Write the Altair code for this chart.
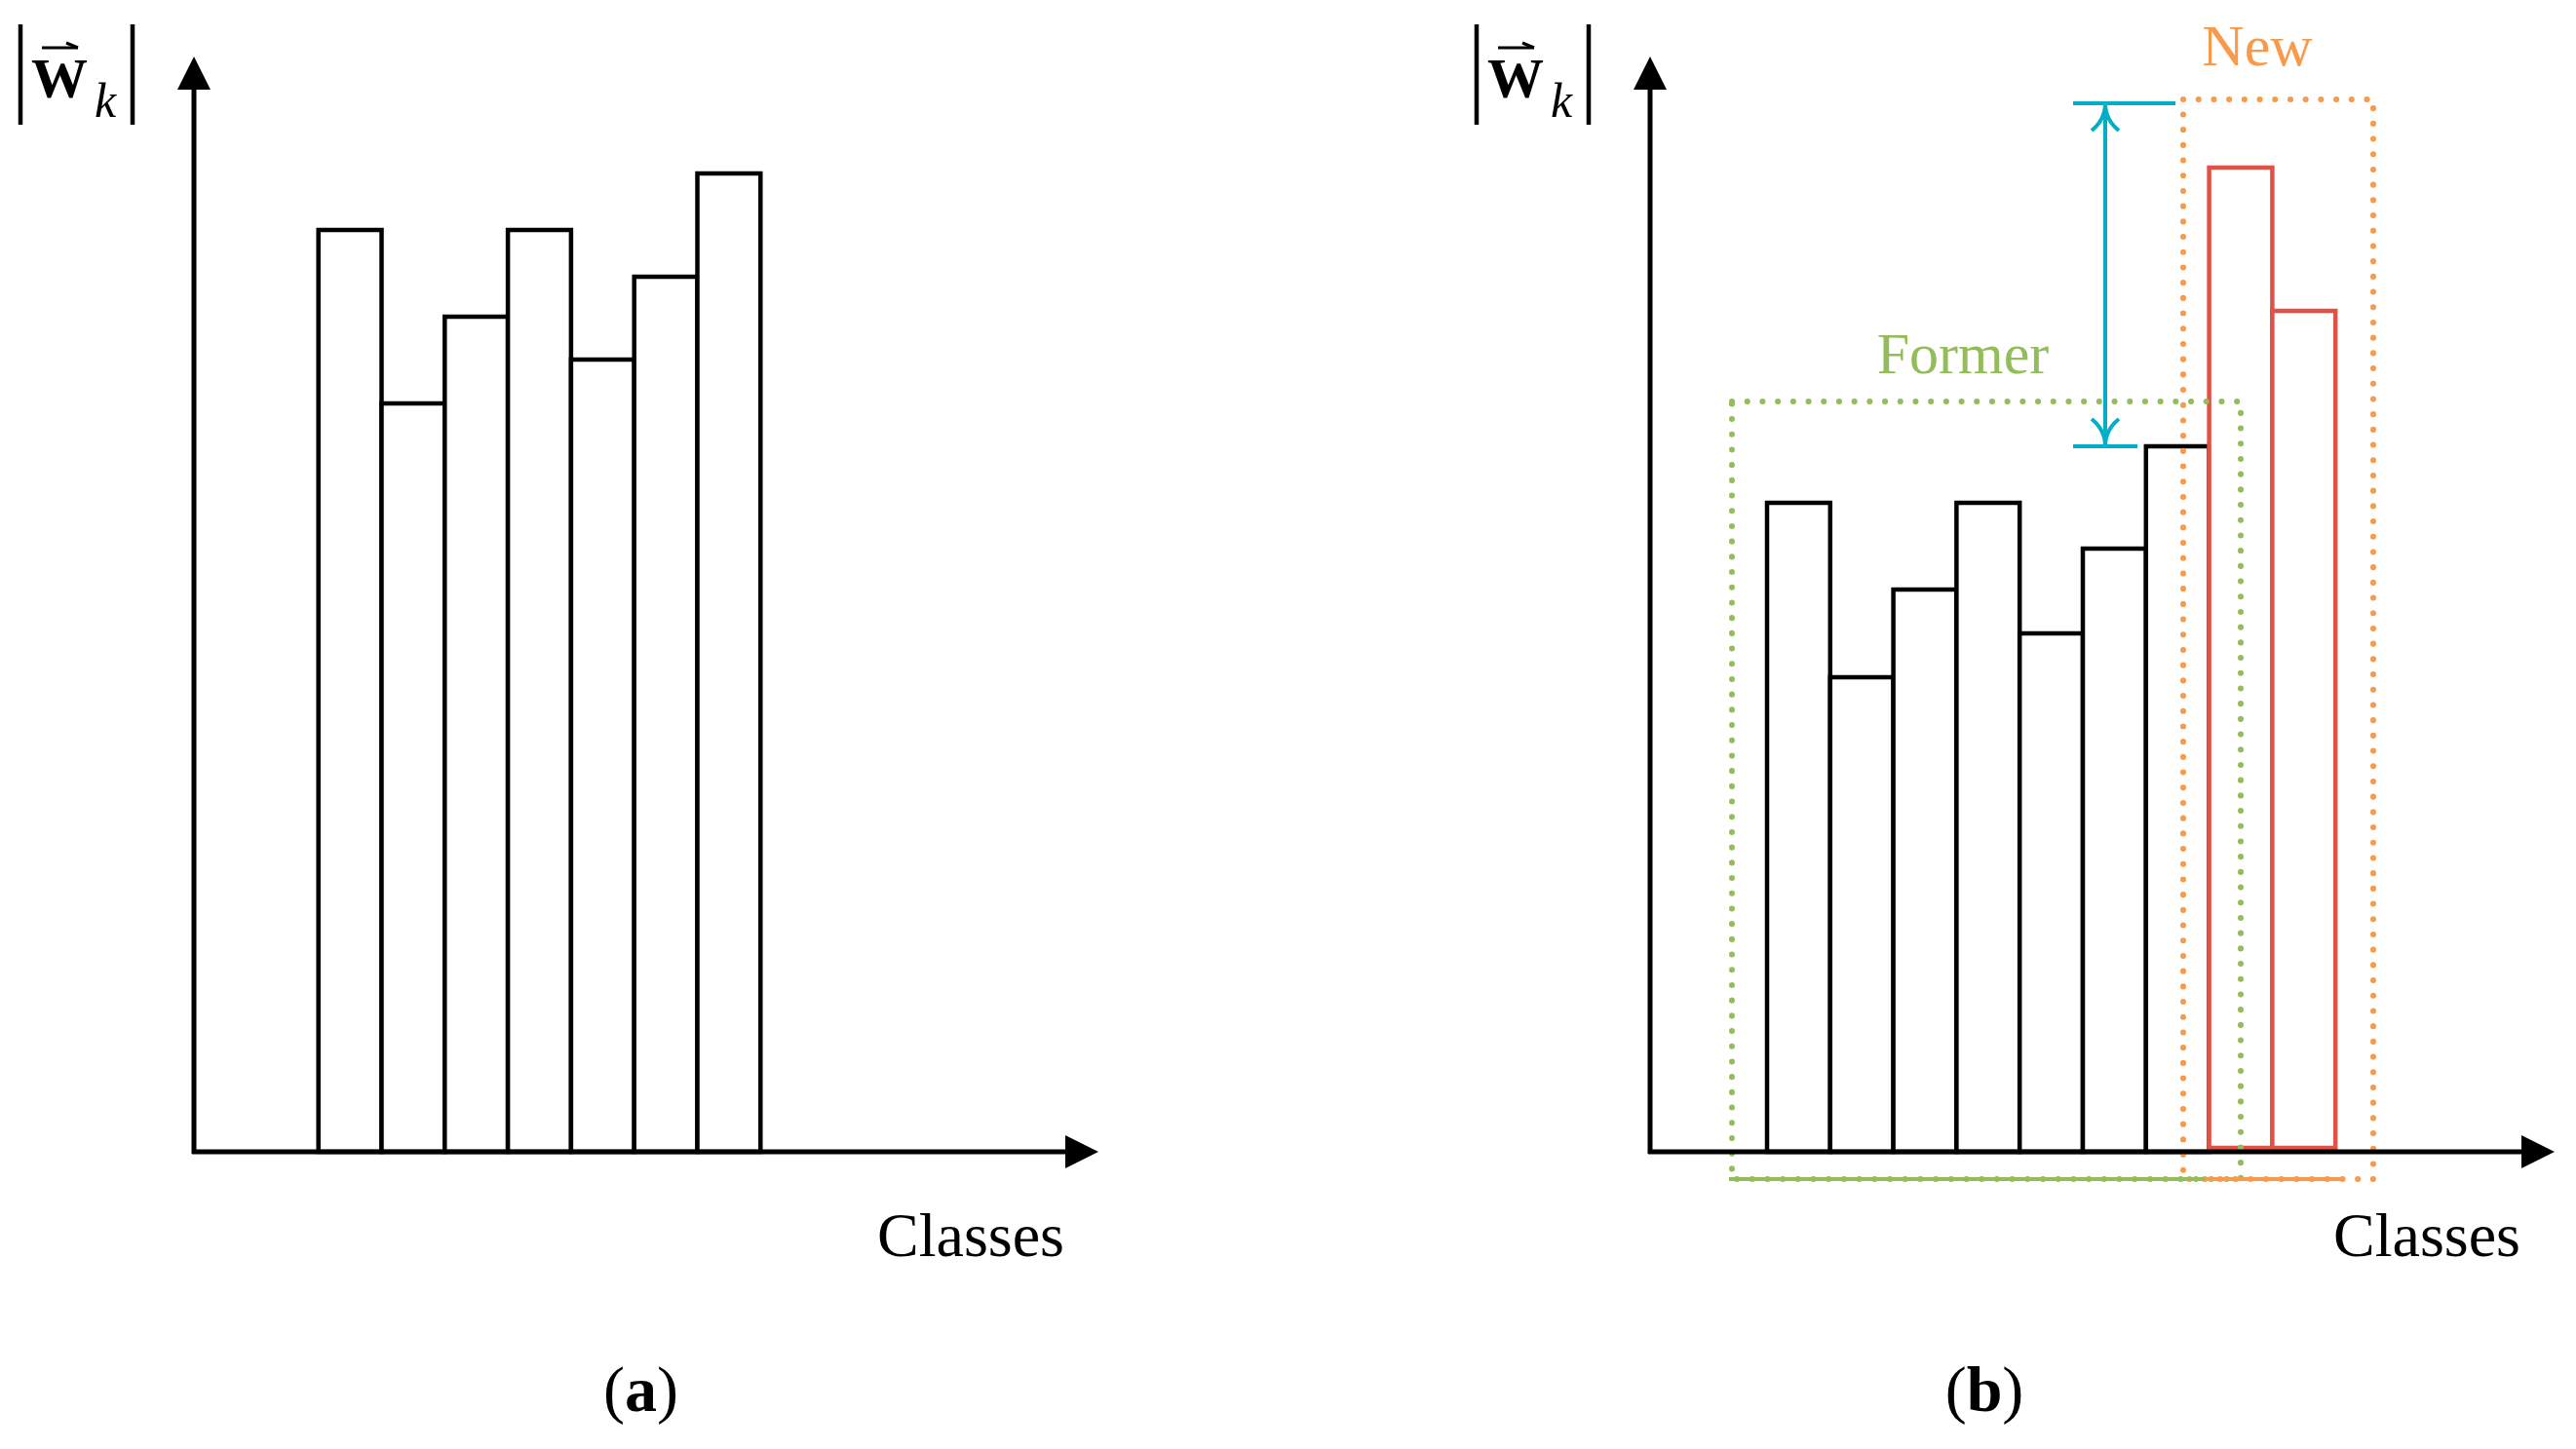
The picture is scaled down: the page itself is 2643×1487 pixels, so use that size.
import altair as alt
import pandas as pd

# ---------------- data ----------------
classes_a = ["c1", "c2", "c3", "c4", "c5", "c6", "c7"]
norm_a = [9.46, 7.68, 8.57, 9.46, 8.13, 8.98, 10.04]

former_classes_b = ["c1", "c2", "c3", "c4", "c5", "c6", "c7"]
former_norm_b = [6.66, 4.87, 5.77, 6.66, 5.32, 6.19, 7.24]
new_classes_b = ["c8", "c9"]
new_norm_b = [10.10, 8.63]

x_title = "Classes"
y_symbol = "W"
y_subscript = "k"
panel_letters = ["a", "b"]
group_names = ["Former", "New"]

# ---------------- layout / style ----------------
SLOT = 64.8          # px per class slot
YU = 100.0           # px per norm unit
H = 1465
ORIGIN_TOP = 1174    # px from plot top to the baseline
ORIGIN_LEFT = 191    # px from plot left to the y axis
W_A = 1494
W_B = 1130

FONT = "Liberation Serif"
BLACK = "#000000"
GREEN = "#93BD5A"
ORANGE = "#F89A4C"
RED = "#E05246"
CYAN = "#00AEC7"


def ux(p):
    return p / SLOT


def uy(p):
    return p / YU


def make_scales(width):
    xs = alt.Scale(domain=[ux(-ORIGIN_LEFT), ux(width - ORIGIN_LEFT)], nice=False, zero=False)
    ys = alt.Scale(domain=[uy(-(H - ORIGIN_TOP)), uy(ORIGIN_TOP)], nice=False, zero=False)
    return xs, ys


def enc_xy(chart, xs, ys, two=False):
    if two:
        return chart.encode(
            x=alt.X("x:Q", scale=xs, axis=None), x2="x2:Q",
            y=alt.Y("y:Q", scale=ys, axis=None), y2="y2:Q",
        )
    return chart.encode(x=alt.X("x:Q", scale=xs, axis=None), y=alt.Y("y:Q", scale=ys, axis=None))


def segments(rows, xs, ys, color, width, dash=None, cap="butt"):
    df = pd.DataFrame([{"x": ux(a), "y": uy(b), "x2": ux(c), "y2": uy(d)} for a, b, c, d in rows])
    kw = dict(color=color, strokeWidth=width, strokeCap=cap, opacity=1)
    if dash is not None:
        kw["strokeDash"] = dash
    return enc_xy(alt.Chart(df).mark_rule(**kw), xs, ys, two=True)


def dotted_box(x0, y0, x1, y1, xs, ys, color):
    df = pd.DataFrame([{"x": ux(x0), "y": uy(y0), "x2": ux(x1), "y2": uy(y1)}])
    return enc_xy(
        alt.Chart(df).mark_rect(
            fill="white", fillOpacity=0, stroke=color, strokeWidth=6,
            strokeDash=[0.1, 15.6], strokeCap="round",
        ),
        xs, ys, two=True,
    )


def bars(classes, values, first, xs, ys, color, base=0.0):
    df = pd.DataFrame({"cls": classes, "norm": values})
    df["x"] = [first + i for i in range(len(df))]
    df["x2"] = df["x"] + 1
    df["base"] = base
    return alt.Chart(df).mark_rect(
        fill="white", stroke=color, strokeWidth=4.5, strokeJoin="miter"
    ).encode(
        x=alt.X("x:Q", scale=xs, axis=None), x2="x2:Q",
        y=alt.Y("base:Q", scale=ys, axis=None), y2="norm:Q",
    )


def marker(x, y, shape, size, color, xs, ys, filled=True, sw=4):
    df = pd.DataFrame({"x": [ux(x)], "y": [uy(y)]})
    kw = dict(shape=shape, size=size, opacity=1, filled=filled, color=color)
    if not filled:
        kw["strokeWidth"] = sw
    return enc_xy(alt.Chart(df).mark_point(**kw), xs, ys)


def label(x, y, text, size, xs, ys, color=BLACK, align="center", weight="normal", style="normal"):
    df = pd.DataFrame({"x": [ux(x)], "y": [uy(y)], "t": [text]})
    return alt.Chart(df).mark_text(
        align=align, baseline="alphabetic", font=FONT, fontSize=size,
        fontWeight=weight, fontStyle=style, color=color,
    ).encode(
        x=alt.X("x:Q", scale=xs, axis=None), y=alt.Y("y:Q", scale=ys, axis=None), text="t:N"
    )


TRI_UP = "M 0 -1 L 1 1 L -1 1 Z"
TRI_RIGHT = "M 1 0 L -1 1 L -1 -1 Z"
OPEN_UP = "M -1 1 Q 0 0.2 0 -1 M 1 1 Q 0 0.2 0 -1"
OPEN_DOWN = "M -1 -1 Q 0 -0.2 0 1 M 1 -1 Q 0 -0.2 0 1"


def frame_layers(xs, ys, letter, letter_cx, letter_halfw):
    layers = []
    # axes with arrowheads
    layers.append(segments([(0, -2, 0, 1092), (-2, 0, 896, 0)], xs, ys, BLACK, 5))
    layers.append(marker(0, 1107, TRI_UP, 1156, BLACK, xs, ys))
    layers.append(marker(911, 0, TRI_RIGHT, 1156, BLACK, xs, ys))
    # |w_k| label
    layers.append(segments([(-178, 1054, -178, 1157), (-63, 1054, -63, 1157)], xs, ys, BLACK, 4.5))
    layers.append(segments([(-156, 1133, -119, 1133), (-131, 1138, -119, 1133)], xs, ys, BLACK, 3))
    layers.append(label(-167, 1082, y_symbol, 58, xs, ys, align="left", weight="bold"))
    layers.append(label(-102, 1062, y_subscript, 50, xs, ys, align="left", style="italic"))
    # x title
    layers.append(label(797, -107, x_title, 64, xs, ys))
    # panel letter
    layers.append(label(letter_cx - letter_halfw, -266, "(", 66, xs, ys, align="right"))
    layers.append(label(letter_cx, -266, letter, 66, xs, ys, weight="bold"))
    layers.append(label(letter_cx + letter_halfw, -266, ")", 66, xs, ys, align="left"))
    return layers


# ---------------- panel (a) ----------------
xa, ya = make_scales(W_A)
panel_a = alt.layer(
    bars(classes_a, norm_a, ux(127.7), xa, ya, BLACK),
    *frame_layers(xa, ya, panel_letters[0], 458.5, 16.5),
).properties(width=W_A, height=H)

# ---------------- panel (b) ----------------
xb, yb = make_scales(W_B)
first_b = ux(120)
panel_b = alt.layer(
    bars(former_classes_b, former_norm_b, first_b, xb, yb, BLACK),
    bars(new_classes_b, new_norm_b, first_b + len(former_classes_b), xb, yb, RED, base=uy(4)),
    dotted_box(84, -28, 606, 770, xb, yb, GREEN),
    dotted_box(547, -28, 742, 1080, xb, yb, ORANGE),
    segments([(81, -28, 569, -28)], xb, yb, GREEN, 4),
    segments([(569, -28, 709, -28)], xb, yb, ORANGE, 4),
    segments([(467, 724, 467, 1076), (434, 1076, 539, 1076), (434, 724, 500, 724)], xb, yb, CYAN, 4),
    marker(467, 1062, OPEN_UP, 784, CYAN, xb, yb, filled=False, sw=4),
    marker(467, 738, OPEN_DOWN, 784, CYAN, xb, yb, filled=False, sw=4),
    label(321, 799, group_names[0], 60, xb, yb, color=GREEN),
    label(623, 1115, group_names[1], 60, xb, yb, color=ORANGE),
    *frame_layers(xb, yb, panel_letters[1], 343, 18.3),
).properties(width=W_B, height=H)

chart = alt.hconcat(panel_a, panel_b, spacing=0, bounds="flush").properties(
    padding=0
).configure_view(strokeWidth=0)

chart.save("out.html", embed_options={"renderer": "svg", "actions": False})
